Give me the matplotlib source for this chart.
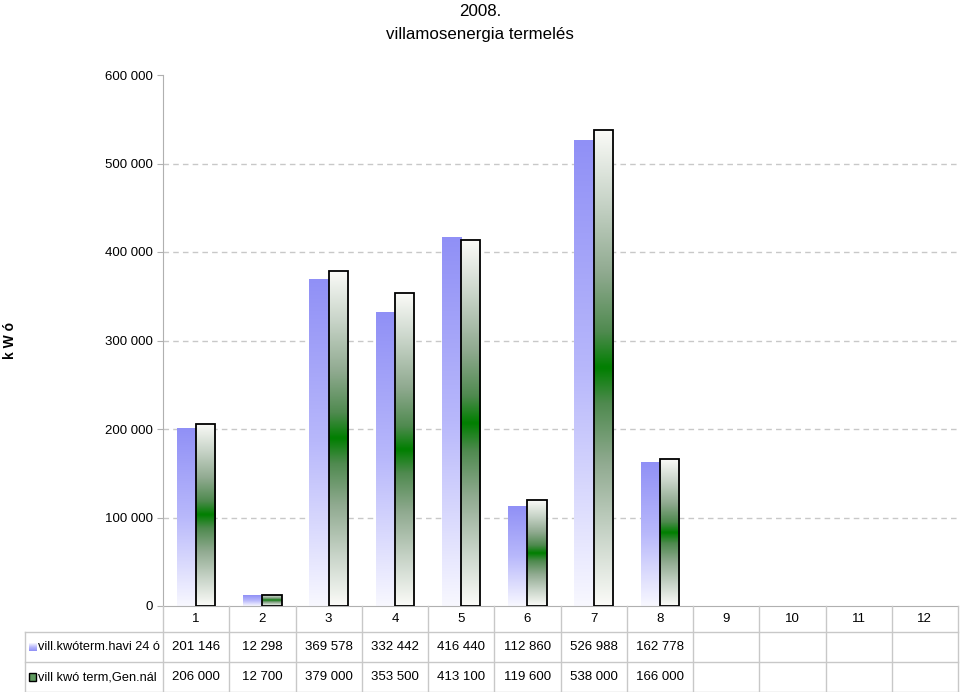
import numpy as np
import matplotlib
matplotlib.use('Agg')
import matplotlib.pyplot as plt
from matplotlib.colors import LinearSegmentedColormap

plt.rcParams['font.family'] = ['Liberation Sans', 'DejaVu Sans']

# data
months = ['1', '2', '3', '4', '5', '6', '7', '8', '9', '10', '11', '12']
series_names = ['vill.kwóterm.havi 24 ó', 'vill kwó term,Gen.nál']
havi = [201146, 12298, 369578, 332442, 416440, 112860, 526988, 162778]
gen = [206000, 12700, 379000, 353500, 413100, 119600, 538000, 166000]

yticks = [0, 100000, 200000, 300000, 400000, 500000, 600000]
fs = 9.5


def fmt(v):
    return f'{v:,}'.replace(',', ' ')


blue_cmap = LinearSegmentedColormap.from_list('bl', ['#f8f8ff', '#b8b8fb', '#9090f6'])
green_cmap = LinearSegmentedColormap.from_list(
    'gr', [(0, '#fbfbf8'), (0.3, '#c8d4c8'), (0.6, '#90aa90'),
           (0.85, '#4f8a4f'), (1.0, '#007f00')])


def fill_gradient(ax, bar, cmap, mirror=False):
    x0, y0 = bar.get_x(), bar.get_y()
    w, h = bar.get_width(), bar.get_height()
    t = np.linspace(0, 1, 256)
    if mirror:
        t = 1 - np.abs(2 * t - 1)
    img = ax.imshow(t.reshape(-1, 1), cmap=cmap, vmin=0, vmax=1, origin='lower',
                    extent=(x0, x0 + w, y0, y0 + h), aspect='auto', zorder=2,
                    interpolation='bilinear')
    img.set_clip_path(bar)


fig = plt.figure(figsize=(9.6, 6.92), dpi=100)
ax = fig.add_axes([163 / 960, 1 - 606 / 692, 795 / 960, 531 / 692])

x = np.arange(1, len(havi) + 1)
bw = 0.29
b1 = ax.bar(x - bw / 2, havi, bw, color='none', edgecolor='none', zorder=2)
b2 = ax.bar(x + bw / 2, gen, bw, color='none', edgecolor='none', zorder=2)
for bar in b1:
    fill_gradient(ax, bar, blue_cmap)
for bar in b2:
    fill_gradient(ax, bar, green_cmap, mirror=True)
    ax.add_patch(plt.Rectangle((bar.get_x(), 0), bar.get_width(), bar.get_height(),
                               fill=False, edgecolor='black', lw=1.3, zorder=3))

ax.set_xlim(0.5, 12.5)
ax.set_ylim(0, 600000)
ax.set_yticks(yticks)
ax.set_yticklabels([fmt(v) for v in yticks], fontsize=fs)
ax.set_xticks(np.arange(0.5, 13, 1))
ax.set_xticklabels([])
ax.tick_params(axis='y', length=4, color='#b0b0b0', pad=3)
ax.tick_params(axis='x', length=0)
for v in yticks[1:-1]:
    ax.axhline(v, color='#c8c8c8', lw=1, ls=(0, (4, 3)), zorder=1)
for s in ['top', 'right']:
    ax.spines[s].set_visible(False)
ax.spines['left'].set_color('#b0b0b0')
ax.spines['bottom'].set_color('#b0b0b0')
ax.set_ylabel('k W ó', fontsize=10, fontweight='bold')
ax.yaxis.set_label_coords((17 - 163) / 795, 0.5)

fig.text(0.5, 1 - 11 / 692, '2008.', ha='center', va='center', fontsize=12.2)
fig.text(0.5, 1 - 34 / 692, 'villamosenergia termelés', ha='center', va='center',
         fontsize=12.2)

# data table below the axis
tab = fig.add_axes([163 / 960, 0, 795 / 960, 86 / 692])
tab.set_xlim(0.5, 12.5)
tab.set_ylim(86, 0)
tab.axis('off')
left = 0.5 - 138 / 66.25
lc = '#c8c8c8'
rows = [0, 26, 56, 86]
tab.plot([left, 12.5], [26, 26], color=lc, lw=1, clip_on=False)
tab.plot([left, 12.5], [56, 56], color=lc, lw=1, clip_on=False)
tab.plot([left, 12.5], [85.5, 85.5], color=lc, lw=1, clip_on=False)
for k in range(13):
    tab.plot([0.5 + k, 0.5 + k], [0, 86], color=lc, lw=1, clip_on=False)
tab.plot([left, left], [26, 86], color=lc, lw=1, clip_on=False)

for i, m in enumerate(months):
    tab.text(i + 1, 13, m, ha='center', va='center', fontsize=fs)
for r, vals in enumerate([havi, gen]):
    yc = (rows[r + 1] + rows[r + 2]) / 2
    for i, v in enumerate(vals):
        tab.text(i + 1, yc, fmt(v), ha='center', va='center', fontsize=fs)
    tab.text(left + 0.19, yc, series_names[r], ha='left', va='center',
             fontsize=9.2, clip_on=False)

# legend keys inside the label cells
kx, kw, kh = left + 0.06, 0.11, 8
t = np.linspace(0, 1, 64).reshape(-1, 1)
k1 = plt.Rectangle((kx, 41 - kh / 2), kw, kh, fill=False, edgecolor='none')
tab.add_patch(k1)
im = tab.imshow(t, cmap=blue_cmap, origin='upper', extent=(kx, kx + kw, 41 + kh / 2, 41 - kh / 2),
                aspect='auto', clip_on=False)
im.set_clip_path(k1)
tab.add_patch(plt.Rectangle((kx, 71 - kh / 2), kw, kh, facecolor='#5f9a5f',
                            edgecolor='black', lw=1, clip_on=False))
tab.set_xlim(0.5, 12.5)
tab.set_ylim(86, 0)

fig.savefig('out.png', dpi=100)
